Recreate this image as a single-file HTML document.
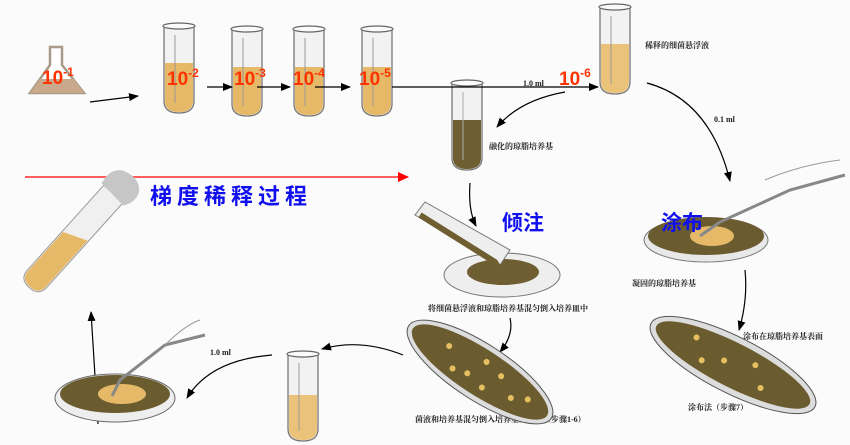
<!DOCTYPE html>
<html><head><meta charset="utf-8"><style>
html,body{margin:0;padding:0;background:#fcfbfc;}
svg{display:block;}
.r{font-family:"Liberation Sans",sans-serif;font-weight:bold;fill:#ff3300;font-size:19px;}
.s{font-family:"Liberation Serif","Noto Serif CJK SC",serif;font-size:8px;fill:#222;font-weight:bold;}
.b{font-family:"Liberation Sans","Noto Sans CJK SC",sans-serif;fill:#1010ee;font-weight:bold;}
</style></head><body>
<svg width="850" height="445" viewBox="0 0 850 445" xmlns="http://www.w3.org/2000/svg">
<defs>
<marker id="a" markerWidth="10" markerHeight="8" refX="9" refY="4" orient="auto" markerUnits="userSpaceOnUse"><path d="M0,0 L10,4 L0,8z" fill="#000"/></marker>
<marker id="ar" markerWidth="11" markerHeight="10" refX="10" refY="5" orient="auto" markerUnits="userSpaceOnUse"><path d="M0,0 L11,5 L0,10z" fill="#f00"/></marker>
<g id="tube"><path d="M0,0 L0,76 Q0,88 15,88 Q30,88 30,76 L30,0" fill="#f2f2f2" stroke="#777" stroke-width="1.3"/><ellipse cx="15" cy="1" rx="16" ry="3" fill="#fafafa" stroke="#666" stroke-width="1.2"/></g>
</defs>
<!-- flask -->
<path d="M50,47 L62,47 L62,65 L84,93 L30,93 L50,65z" fill="#fff" stroke="#a89a88" stroke-width="2.5"/>
<path d="M40,79 L74,79 L84,93 L30,93z" fill="#c9a98b"/>
<!-- tubes -->
<g transform="translate(164,25)"><use href="#tube"/><path d="M1,38 L29,38 L29,76 Q29,87 15,87 Q1,87 1,76z" fill="#e6b968"/><line x1="11" y1="10" x2="11" y2="78" stroke="#999"/></g>
<g transform="translate(232,28)"><use href="#tube"/><path d="M1,39 L29,39 L29,76 Q29,87 15,87 Q1,87 1,76z" fill="#e6b968"/><line x1="11" y1="10" x2="11" y2="78" stroke="#999"/></g>
<g transform="translate(294,28)"><use href="#tube"/><path d="M1,39 L29,39 L29,76 Q29,87 15,87 Q1,87 1,76z" fill="#e6b968"/><line x1="11" y1="10" x2="11" y2="78" stroke="#999"/></g>
<g transform="translate(362,28)"><use href="#tube"/><path d="M1,39 L29,39 L29,76 Q29,87 15,87 Q1,87 1,76z" fill="#e6b968"/><line x1="11" y1="10" x2="11" y2="78" stroke="#999"/></g>
<g transform="translate(452,82)"><use href="#tube"/><path d="M1,38 L29,38 L29,76 Q29,87 15,87 Q1,87 1,76z" fill="#6e5e32"/><line x1="11" y1="10" x2="11" y2="78" stroke="#aaa"/></g>
<g transform="translate(600,6)"><use href="#tube"/><path d="M1,38 L29,38 L29,76 Q29,87 15,87 Q1,87 1,76z" fill="#ebc27a"/><line x1="11" y1="10" x2="11" y2="78" stroke="#999"/></g>
<g transform="translate(288,353)"><use href="#tube"/><path d="M1,42 L29,42 L29,76 Q29,87 15,87 Q1,87 1,76z" fill="#ebc27a"/><line x1="11" y1="10" x2="11" y2="78" stroke="#999"/></g>
<!-- labels -->
<text class="r" x="42" y="84">10<tspan font-size="12" dy="-8">-1</tspan></text>
<text class="r" x="167" y="85">10<tspan font-size="12" dy="-8">-2</tspan></text>
<text class="r" x="234" y="85">10<tspan font-size="12" dy="-8">-3</tspan></text>
<text class="r" x="293" y="85">10<tspan font-size="12" dy="-8">-4</tspan></text>
<text class="r" x="359" y="85">10<tspan font-size="12" dy="-8">-5</tspan></text>
<text class="r" x="559" y="85">10<tspan font-size="12" dy="-8">-6</tspan></text>
<!-- arrows -->
<g stroke="#000" stroke-width="1.2" fill="none">
<line x1="90" y1="102" x2="138" y2="96" marker-end="url(#a)"/>
<line x1="207" y1="87" x2="232" y2="87" marker-end="url(#a)"/>
<line x1="257" y1="87" x2="290" y2="87" marker-end="url(#a)"/>
<line x1="315" y1="87" x2="350" y2="87" marker-end="url(#a)"/>
<line x1="392" y1="87" x2="598" y2="87" marker-end="url(#a)"/>
<path d="M565,92 Q520,100 497,127" marker-end="url(#a)"/>
<path d="M647,83 Q710,100 730,181" marker-end="url(#a)"/>
<path d="M470,183 Q468,210 476,226" marker-end="url(#a)"/>
<path d="M510,318 Q514,335 500,352" marker-end="url(#a)"/>
<path d="M745,270 Q748,300 739,330" marker-end="url(#a)"/>
<path d="M403,355 Q360,338 322,349" marker-end="url(#a)"/>
<path d="M272,355 Q210,360 187,398" marker-end="url(#a)"/>
<line x1="98" y1="424" x2="91" y2="312" marker-end="url(#a)"/>
</g>
<line x1="25" y1="177" x2="408" y2="177" stroke="#f00" stroke-width="1.2" marker-end="url(#ar)"/>
<text class="s" x="523" y="86">1.0 ml</text>
<text class="s" x="714" y="122">0.1 ml</text>
<text class="s" x="210" y="355">1.0 ml</text>
<text class="s" x="645" y="48">稀释的细菌悬浮液</text>
<text class="s" x="489" y="149">融化的琼脂培养基</text>
<text class="s" x="428" y="311">将细菌悬浮液和琼脂培养基混匀倒入培养皿中</text>
<text class="s" x="632" y="286">凝固的琼脂培养基</text>
<text class="s" x="743" y="339">涂布在琼脂培养基表面</text>
<text class="s" x="688" y="410">涂布法（步骤7）</text>
<text class="s" x="415" y="422">菌液和培养基混匀倒入培养基的方法（步骤1-6）</text>
<text class="b" x="150" y="204" font-size="22" letter-spacing="5">梯度稀释过程</text>
<text class="b" x="502" y="230" font-size="21" font-weight="normal">倾注</text>
<!-- spread plate right -->
<ellipse cx="706" cy="240" rx="62" ry="22" fill="#e8e8e8" stroke="#777"/>
<ellipse cx="706" cy="236" rx="58" ry="19" fill="#6b5c30"/>
<ellipse cx="712" cy="236" rx="22" ry="10" fill="#e6b968"/>
<path d="M700,236 L720,222 L790,190 L845,175" stroke="#888" fill="none" stroke-width="3"/>
<path d="M765,180 Q800,165 840,160" stroke="#999" fill="none"/>
<text class="b" x="661" y="230" font-size="21" font-weight="normal">涂布</text>
<!-- pour plate -->
<ellipse cx="502" cy="275" rx="58" ry="22" fill="#eee" stroke="#777"/>
<ellipse cx="503" cy="272" rx="36" ry="13" fill="#6e5e32"/>
<path d="M415,215 L500,265 L510,250 L425,202z" fill="#eee" stroke="#777"/>
<path d="M420,215 L495,262 L500,270 L500,285" stroke="#6e5e32" stroke-width="6" fill="none"/>
<!-- middle tilted plate -->
<g transform="translate(480,372) rotate(33)"><ellipse rx="85" ry="28" fill="#ddd" stroke="#555"/><ellipse rx="80" ry="23" fill="#6b5c30"/>
<g fill="#e6c060"><circle cx="-40" cy="-5" r="3"/><circle cx="-10" cy="8" r="3"/><circle cx="20" cy="-8" r="3"/><circle cx="40" cy="5" r="3"/><circle cx="0" cy="-12" r="3"/><circle cx="-25" cy="12" r="3"/><circle cx="55" cy="-3" r="3"/><circle cx="10" cy="12" r="3"/></g></g>
<!-- right tilted plate -->
<g transform="translate(733,365) rotate(27)"><ellipse rx="92" ry="28" fill="#ddd" stroke="#555"/><ellipse rx="86" ry="22" fill="#6b5c30"/>
<g fill="#e6c060"><circle cx="-45" cy="-8" r="3"/><circle cx="-10" cy="0" r="3"/><circle cx="20" cy="-10" r="3"/><circle cx="35" cy="8" r="3"/><circle cx="-30" cy="10" r="3"/></g></g>
<!-- left plate -->
<ellipse cx="115" cy="398" rx="60" ry="24" fill="#eee" stroke="#666"/>
<ellipse cx="115" cy="394" rx="55" ry="19" fill="#6b5c30"/>
<ellipse cx="122" cy="394" rx="24" ry="10" fill="#e6b968"/>
<path d="M112,396 L120,380 L165,345 L205,335" stroke="#888" fill="none" stroke-width="3"/>
<path d="M165,345 Q185,325 200,320" stroke="#999" fill="none"/>
<!-- tilted tube top-left -->
<g transform="translate(72,240) rotate(42)">
<path d="M-13,-62 L-13,52 Q-13,64 0,64 Q13,64 13,52 L13,-62z" fill="#f0f0f0" stroke="#999"/>
<path d="M-12,0 L12,-10 L12,52 Q12,63 0,63 Q-12,63 -12,52z" fill="#e6b968"/>
<path d="M-16,-62 Q-20,-80 -8,-86 Q10,-92 18,-80 Q22,-70 15,-60z" fill="#c6c6c6"/>
</g>
</svg>
</body></html>
